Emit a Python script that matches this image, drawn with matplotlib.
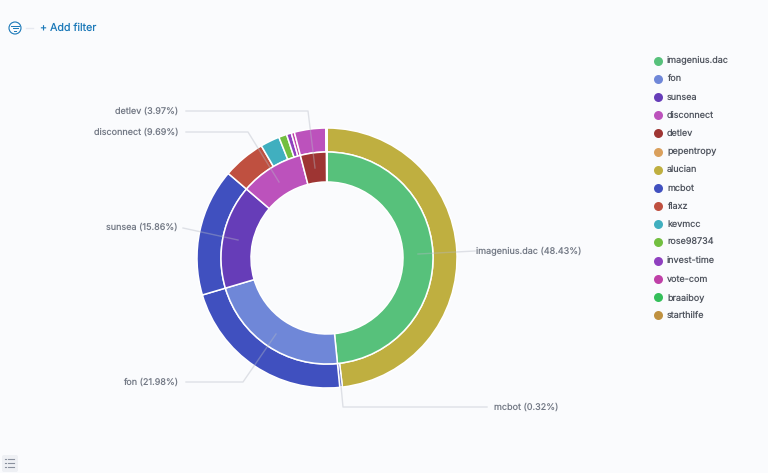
import matplotlib.pyplot as plt
from matplotlib.patches import Circle, FancyBboxPatch

plt.rcParams['font.family'] = ['Inter', 'DejaVu Sans']
plt.rcParams['text.hinting'] = 'no_hinting'
plt.rcParams['text.hinting_factor'] = 1

W, H = 768, 473
BG = '#FAFBFD'
TEXT = '#50555F'
LABEL = '#747A86'
LINK = '#1A78B8'
LEADER = '#B4B9C4'

legend_names = ['imagenius.dac', 'fon', 'sunsea', 'disconnect', 'detlev', 'pepentropy',
                'alucian', 'mcbot', 'flaxz', 'kevmcc', 'rose98734', 'invest-time',
                'vote-com', 'braaiboy', 'starthilfe']
legend_colors = ['#57C17B', '#6F87D8', '#663DB8', '#BC52BC', '#9E3533', '#DAA05D',
                 '#BFAF40', '#4050BF', '#BF5040', '#40AFBF', '#72BF40', '#8F40BF',
                 '#BF40A7', '#34BF5A', '#BF9140']
colors = dict(zip(legend_names, legend_colors))

inner_names = ['imagenius.dac', 'fon', 'sunsea', 'disconnect', 'detlev', 'pepentropy']
inner_values = [48.43, 21.98, 15.86, 9.69, 3.97, 0.07]

outer_names = ['alucian', 'mcbot', 'mcbot', 'mcbot', 'flaxz', 'kevmcc', 'rose98734',
               'invest-time', 'vote-com', 'disconnect', 'braaiboy', 'starthilfe']
outer_values = [48.11, 0.32, 21.98, 15.86, 5.3, 2.4, 1.0, 0.6, 0.39, 3.92, 0.05, 0.07]

# label text, text anchor, leader path in screen pixels
callouts = [
    ('detlev (3.97%)', 178, 111, 'right', [(186, 111), (308, 111), (315, 168)]),
    ('disconnect (9.69%)', 178, 132, 'right', [(186, 132), (248, 132), (279, 182)]),
    ('sunsea (15.86%)', 178, 227, 'right', [(183, 228), (238, 240)]),
    ('fon (21.98%)', 178, 382, 'right', [(186, 382), (243, 382), (276, 334)]),
    ('imagenius.dac (48.43%)', 476, 251, 'left', [(418, 254), (475, 251)]),
    ('mcbot (0.32%)', 494, 407, 'left', [(340, 375), (343, 407), (487, 407)]),
]


def y_px(y):
    return H - y


fig = plt.figure(figsize=(W / 100, H / 100), dpi=100, facecolor=BG)
ax = fig.add_axes([0, 0, 1, 1])
ax.set_facecolor(BG)

cx, cy = 327, y_px(258)
ax.pie(outer_values, colors=[colors[n] for n in outer_names], radius=130, center=(cx, cy),
       startangle=90, counterclock=False, frame=True,
       wedgeprops=dict(width=24, edgecolor='white', linewidth=1.1))
ax.pie(inner_values, colors=[colors[n] for n in inner_names], radius=106, center=(cx, cy),
       startangle=90, counterclock=False, frame=True,
       wedgeprops=dict(width=30, edgecolor='white', linewidth=1.1))

ax.set_xlim(0, W)
ax.set_ylim(0, H)
ax.set_aspect('equal')
ax.axis('off')

for text, tx, ty, ha, path in callouts:
    ax.plot([p[0] for p in path], [y_px(p[1]) for p in path], color=LEADER, lw=1,
            alpha=0.4, zorder=5)
    ax.text(tx, y_px(ty), text, ha=ha, va='center', fontsize=6.5, color=LABEL)

for i, name in enumerate(legend_names):
    ly = 60.5 + 18.2 * i
    ax.scatter([658], [y_px(ly)], s=42, color=colors[name], linewidths=0, zorder=5)
    ax.text(667, y_px(ly), name, ha='left', va='center', fontsize=6.5, color=TEXT)

# filter bar
ax.add_patch(Circle((15, y_px(28)), 6, fill=False, edgecolor=LINK, lw=0.8))
ax.plot([11, 19], [y_px(25.5), y_px(25.5)], color=LINK, lw=0.7)
ax.plot([12.5, 17.5], [y_px(28), y_px(28)], color=LINK, lw=0.7)
ax.plot([14, 16], [y_px(30.5), y_px(30.5)], color=LINK, lw=0.7)
ax.plot([26, 33], [y_px(28), y_px(28)], color='#E6E9F0', lw=1)
ax.text(40, y_px(28), '+ Add filter', ha='left', va='center', fontsize=7.7, color=LINK)

# legend toggle button
ax.add_patch(FancyBboxPatch((2, y_px(472)), 16, 17, boxstyle='round,pad=0,rounding_size=2',
                            facecolor='#EEF0F4', edgecolor='none'))
for off in (459, 463, 467):
    ax.plot([4.5, 6], [y_px(off), y_px(off)], color='#8A919E', lw=0.8)
    ax.plot([7.5, 14], [y_px(off), y_px(off)], color='#8A919E', lw=0.8)

fig.savefig('out.png', dpi=100, facecolor=BG)
